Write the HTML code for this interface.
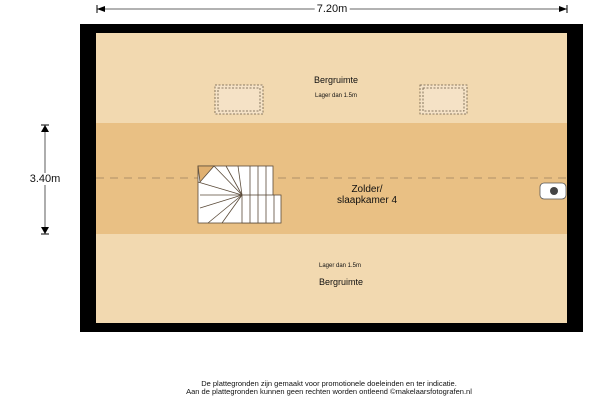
<!DOCTYPE html>
<html><head><style>
body{margin:0;width:600px;height:400px;background:#fff;position:relative;overflow:hidden;font-family:"Liberation Sans",sans-serif}
div{position:absolute}
.t{white-space:nowrap;transform:translateX(-50%);color:#111}
</style></head><body>
<svg width="600" height="400" style="position:absolute;left:0;top:0">
<rect x="80" y="24" width="503" height="308" fill="#000"/>
<rect x="96" y="33" width="471" height="290" fill="#f2d9b0"/>
<rect x="96" y="123" width="471" height="111" fill="#e9c084"/>
<line x1="96" y1="178" x2="567" y2="178" stroke="#9a8060" stroke-width="0.8" stroke-dasharray="8,6"/>
<g fill="#f5e2c6" stroke="#6a5a44" stroke-width="0.8" stroke-dasharray="2,1.5">
<rect x="215" y="85" width="48" height="29"/><rect x="218" y="88" width="42" height="23"/>
<rect x="420" y="85" width="47" height="29"/><rect x="423" y="88" width="41" height="23"/>
</g>
<g stroke="#5a4a38" stroke-width="0.8" fill="#fff">
<rect x="198" y="166" width="75" height="57"/>
<rect x="242" y="195" width="39" height="28"/>
<polygon points="198,166 214,166 200,182" fill="#e0b070"/>
<line x1="242" y1="195" x2="198" y2="182"/><line x1="242" y1="195" x2="200" y2="195"/>
<line x1="242" y1="195" x2="200" y2="208"/><line x1="242" y1="195" x2="208" y2="223"/>
<line x1="242" y1="195" x2="222" y2="223"/><line x1="242" y1="195" x2="214" y2="166"/>
<line x1="242" y1="195" x2="226" y2="166"/><line x1="242" y1="195" x2="238" y2="166"/>
<line x1="250" y1="166" x2="250" y2="195"/><line x1="258" y1="166" x2="258" y2="195"/><line x1="266" y1="166" x2="266" y2="195"/>
<line x1="250" y1="195" x2="250" y2="223"/><line x1="258" y1="195" x2="258" y2="223"/><line x1="266" y1="195" x2="266" y2="223"/><line x1="274" y1="195" x2="274" y2="223"/>
</g>
<rect x="540" y="183" width="26" height="16" rx="4" fill="#fff" stroke="#555" stroke-width="0.8"/>
<circle cx="554" cy="191" r="4" fill="#444"/>
<g stroke="#333" stroke-width="0.8">
<line x1="97" y1="9" x2="567" y2="9"/>
<line x1="45" y1="125" x2="45" y2="234"/>
</g>
<polygon points="97,9 105,6 105,12" fill="#000"/><line x1="97" y1="5" x2="97" y2="13" stroke="#000"/>
<polygon points="567,9 559,6 559,12" fill="#000"/><line x1="567" y1="5" x2="567" y2="13" stroke="#000"/>
<polygon points="45,125 41,132 49,132" fill="#000"/><line x1="41" y1="125" x2="49" y2="125" stroke="#000"/>
<polygon points="45,234 41,227 49,227" fill="#000"/><line x1="41" y1="234" x2="49" y2="234" stroke="#000"/>
</svg>
<div class="t" style="left:332px;top:3px;font-size:11px;background:#fff;padding:0 2px">7.20m</div>
<div class="t" style="left:45px;top:173px;font-size:11px;background:#fff">3.40m</div>
<div class="t" style="left:336px;top:75px;font-size:9px">Bergruimte</div>
<div class="t" style="left:336px;top:93px;font-size:6px">Lager dan 1.5m</div>
<div class="t" style="left:367px;top:184px;font-size:10px;text-align:center;line-height:11px">Zolder/<br>slaapkamer 4</div>
<div class="t" style="left:340px;top:263px;font-size:6px">Lager dan 1.5m</div>
<div class="t" style="left:341px;top:277px;font-size:9px">Bergruimte</div>
<div class="t" style="left:329px;top:380px;font-size:7.5px;text-align:center;line-height:8px">De plattegronden zijn gemaakt voor promotionele doeleinden en ter indicatie.<br>Aan de plattegronden kunnen geen rechten worden ontleend ©makelaarsfotografen.nl</div>
</body></html>
